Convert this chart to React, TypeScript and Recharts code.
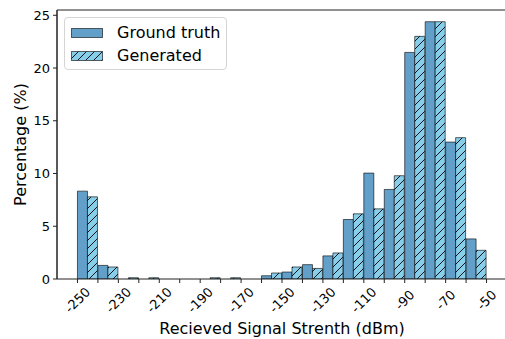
import React from 'react';
import { BarChart, Bar, XAxis, YAxis, Legend, ReferenceLine } from 'recharts';

const bins = [-250, -240, -230, -220, -210, -200, -190, -180, -170, -160, -150, -140, -130, -120, -110, -100, -90, -80, -70, -60];
const groundTruth = [8.33, 1.29, 0, 0, 0, 0, 0, 0, 0, 0.31, 0.66, 1.36, 2.19, 5.64, 10.04, 8.49, 21.48, 24.39, 12.98, 3.8];
const generated = [7.79, 1.14, 0.12, 0.12, 0, 0, 0.12, 0.12, 0, 0.57, 1.14, 1.0, 2.47, 6.18, 6.65, 9.79, 23.0, 24.39, 13.4, 2.72];
const xTicks = [-250, -240, -230, -220, -210, -200, -190, -180, -170, -160, -150, -140, -130, -120, -110, -100, -90, -80, -70, -60, -50];
const xLabelTicks = [-250, -230, -210, -190, -170, -150, -130, -110, -90, -70, -50];
const yTicks = [0, 5, 10, 15, 20, 25];
const seriesNames = ['Ground truth', 'Generated'];

const data = bins.map((b, i) => ({ bin: b, gt: groundTruth[i], gen: generated[i] }));

const FONT = '"DejaVu Sans", sans-serif';
const GT_COLOR = '#62a0ca';
const GEN_COLOR = '#87ceeb';
const EDGE = '#000';
const X_MIN = -260;
const X_MAX = -40;
const Y_MAX = 25.5;
const TICK_FS = 13;

const XTick = (props: any) => {
  const { x, y, payload } = props;
  if (!xLabelTicks.includes(payload.value)) return <g />;
  const cy = y + 14;
  return (
    <text x={x} y={cy} dy="0.35em" textAnchor="middle" fontSize={TICK_FS} fontFamily={FONT} fill="#000"
      transform={`rotate(-45, ${x}, ${cy})`}>
      {String(payload.value)}
    </text>
  );
};

const XLabel = (props: any) => {
  const vb = props.viewBox || {};
  return (
    <text x={vb.x + vb.width / 2} y={vb.y + 55} textAnchor="middle" fontSize={16} fontFamily={FONT} fill="#000">
      Recieved Signal Strenth (dBm)
    </text>
  );
};

const YLabel = (props: any) => {
  const vb = props.viewBox || {};
  const x = 26;
  const y = vb.y + vb.height / 2;
  return (
    <text x={x} y={y} textAnchor="middle" fontSize={16} fontFamily={FONT} fill="#000" transform={`rotate(-90, ${x}, ${y})`}>
      Percentage (%)
    </text>
  );
};

const LegendBox = () => (
  <div style={{ width: 163, height: 53, border: '1px solid #d5d5d5', borderRadius: 4, background: 'rgba(255,255,255,0.8)', boxSizing: 'border-box', position: 'relative', fontFamily: FONT, fontSize: 16, color: '#000' }}>
    {seriesNames.map((name, i) => (
      <div key={i} style={{ position: 'absolute', left: 6, top: 9 + i * 23, height: 12, display: 'flex', alignItems: 'center', whiteSpace: 'nowrap' }}>
        <svg width={32} height={10} style={{ display: 'block' }}>
          <defs>
            <pattern id={`lh${i}`} patternUnits="userSpaceOnUse" width="8" height="8">
              <rect width="8" height="8" fill={GEN_COLOR} />
              <path d="M-2,2 l4,-4 M0,8 l8,-8 M6,10 l4,-4" stroke="#000" strokeWidth={0.9} />
            </pattern>
          </defs>
          <rect x={0.5} y={0.5} width={31} height={9} fill={i === 0 ? GT_COLOR : `url(#lh${i})`} stroke={EDGE} strokeOpacity={0.6} />
        </svg>
        <span style={{ marginLeft: 14, lineHeight: '12px' }}>{name}</span>
      </div>
    ))}
  </div>
);

export default function App() {
  return (
    <div style={{ position: 'fixed', left: 0, top: 0, width: 505, height: 339, overflow: 'hidden', background: '#fff' }}>
      <BarChart width={520} height={339} data={data} margin={{ top: 10, right: 13, bottom: 0, left: 0 }} barCategoryGap={0} barGap={0}>
        <defs>
          <pattern id="hatch" patternUnits="userSpaceOnUse" width="8" height="8">
            <rect width="8" height="8" fill={GEN_COLOR} />
            <path d="M-2,2 l4,-4 M0,8 l8,-8 M6,10 l4,-4" stroke="#000" strokeWidth={0.9} />
          </pattern>
        </defs>
        <XAxis xAxisId="cat" dataKey="bin" type="category" hide height={0} padding={{ left: 450 / 22, right: 450 / 22 }} />
        <XAxis xAxisId="num" dataKey="bin" type="number" domain={[X_MIN, X_MAX]} allowDataOverflow ticks={xTicks} interval={0}
          tickSize={4} tickMargin={3} height={60} axisLine={{ stroke: '#222' }} tickLine={{ stroke: '#222' }}
          tick={(p: any) => <XTick {...p} />} label={(p: any) => <XLabel {...p} />} />
        <YAxis domain={[0, Y_MAX]} ticks={yTicks} width={57} tickSize={4} tickMargin={3} allowDataOverflow
          axisLine={{ stroke: '#222' }} tickLine={{ stroke: '#222' }}
          tick={{ fill: '#000', fontSize: TICK_FS, fontFamily: FONT }} label={(p: any) => <YLabel {...p} />} />
        <Legend layout="vertical" align="center" verticalAlign="middle" content={() => <LegendBox />}
          wrapperStyle={{ position: 'absolute', left: 64, top: 17, width: 163, height: 53, right: 'auto', bottom: 'auto' }} />
        <Bar xAxisId="cat" dataKey="gt" name={seriesNames[0]} fill={GT_COLOR} stroke={EDGE} strokeOpacity={0.6} strokeWidth={1} isAnimationActive={false} />
        <Bar xAxisId="cat" dataKey="gen" name={seriesNames[1]} fill="url(#hatch)" stroke={EDGE} strokeOpacity={0.6} strokeWidth={1} isAnimationActive={false} />
        <ReferenceLine xAxisId="num" x={X_MIN} stroke="#222" strokeWidth={1} ifOverflow="visible" />
        <ReferenceLine xAxisId="num" y={Y_MAX} stroke="#222" strokeWidth={1} ifOverflow="visible" />
      </BarChart>
    </div>
  );
}
